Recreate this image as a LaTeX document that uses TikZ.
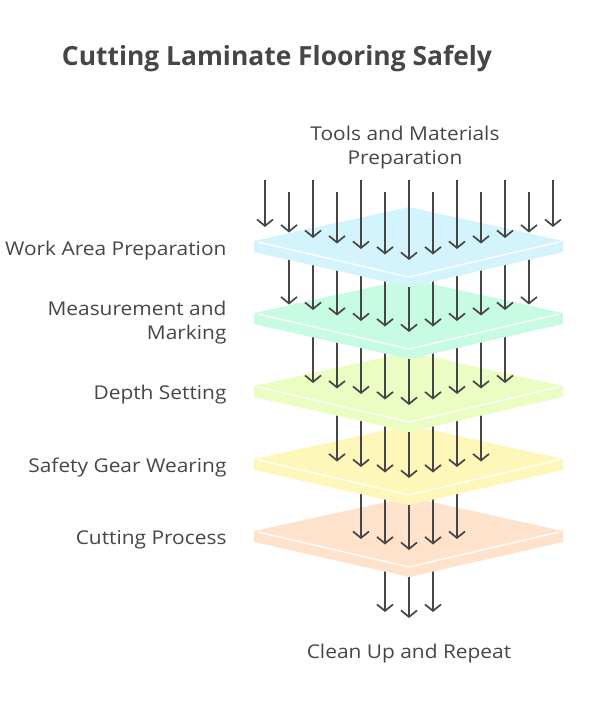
\documentclass[tikz,border=0pt]{standalone}
\usepackage{fontspec}
\setmainfont{Open Sans}
\newfontfamily\widefont[FakeStretch=1.1]{Open Sans}
\usetikzlibrary{arrows.meta}

\definecolor{ink}{HTML}{464646}
\definecolor{toolsblue}{HTML}{D3F3FD}
\definecolor{measuregreen}{HTML}{C7FBE3}
\definecolor{depthlime}{HTML}{EBFDC2}
\definecolor{gearyellow}{HTML}{FEF7BA}
\definecolor{cutorange}{HTML}{FEE2CC}

\tikzset{
    flow/.style={draw=ink, line width=1.7pt, -{Straight Barb[length=6.5pt,width=16pt,line width=1.7pt]}},
    steplabel/.style={font=\widefont\fontsize{19}{24}\selectfont, text=ink, anchor=east, align=right},
    endlabel/.style={font=\widefont\fontsize{19}{24}\selectfont, text=ink, align=center},
}

% one flat slab: #1 = y of its side corners, #2 = colour
\newcommand{\slab}[2]{
    \fill[#2] (254,#1) -- (409,#1-34) -- (563,#1) -- (563,#1+11) -- (409,#1+46) -- (254,#1+11) -- cycle;
    \draw[white, line width=1.3pt] (258,#1+1) -- (409,#1+36) -- (559,#1+1);
}
% arrows that land on a slab: #1 = y of slab, #2 = start y, #3 = list of x
\newcommand{\rain}[3]{
    \foreach \x in {#3} {
        \draw[flow] (\x, #2) -- (\x, {#1+19-0.229*abs(\x-409)});
    }
}

\begin{document}
\begin{tikzpicture}[x=1pt, y=-1pt]
    \useasboundingbox (0,0) rectangle (590,710);

    % Title
    \node[font=\bfseries\fontsize{26.4}{30}\selectfont, text=ink] (title) at (277,59) {Cutting Laminate Flooring Safely};

    % Bottom arrows (out of the last slab)
    \foreach \x in {385,409,433} {
        \draw[flow] (\x, 545) -- (\x, {618-0.25*abs(\x-409)});
    }

    % Slabs, from the bottom up, each with the arrows falling on it
    \slab{531}{cutorange}
    \rain{531}{459}{361,385,...,457}
    \slab{459}{gearyellow}
    \rain{459}{386}{337,361,...,481}
    \slab{386}{depthlime}
    \rain{386}{313}{313,337,...,505}
    \slab{313}{measuregreen}
    \rain{313}{241}{289,313,...,529}
    \slab{241}{toolsblue}

    % Top arrows (alternating long and short)
    \foreach \x/\s in {265/180, 289/192, 313/180, 337/192, 361/180, 385/192, 409/180,
                       433/192, 457/180, 481/192, 505/180, 529/192, 553/180} {
        \draw[flow] (\x, \s) -- (\x, {260-0.229*abs(\x-409)});
    }

    % Labels
    \node[endlabel] (tools) at (405,148) {Tools and Materials\\Preparation};
    \node[steplabel] (work) at (230,251) {Work Area Preparation};
    \node[steplabel] (measure) at (230,323) {Measurement and\\Marking};
    \node[steplabel] (depth) at (230,395) {Depth Setting};
    \node[steplabel] (gear) at (230,468) {Safety Gear Wearing};
    \node[steplabel] (cutting) at (230,540) {Cutting Process};
    \node[endlabel] (clean) at (409,654) {Clean Up and Repeat};
\end{tikzpicture}
\end{document}
